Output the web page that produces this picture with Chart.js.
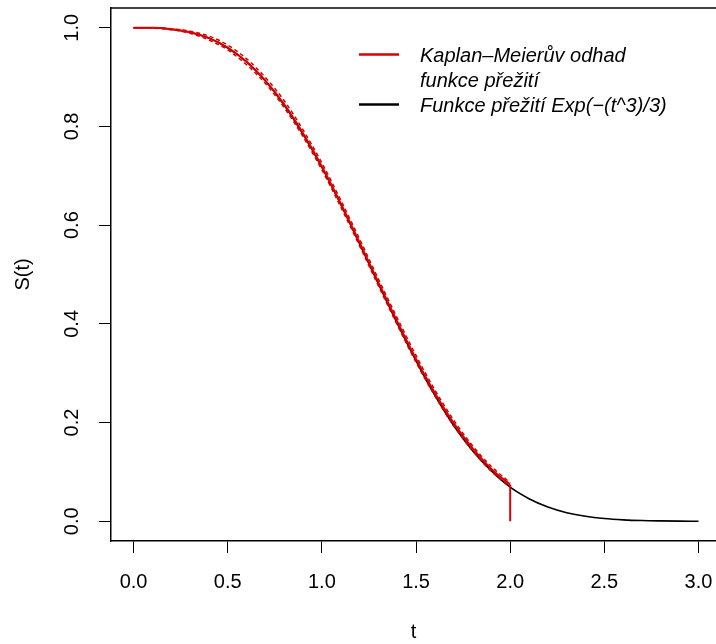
<!DOCTYPE html>
<html>
<head>
<meta charset="utf-8">
<script src="https://cdn.jsdelivr.net/npm/chart.js@4"></script>
<style>
  html, body { margin: 0; padding: 0; background: #fff; overflow: hidden; }
  #wrap { width: 716px; height: 644px; }
</style>
</head>
<body>
<div id="wrap"><canvas id="chart" width="716" height="644"></canvas></div>
<script>
// values
const tTrue = [0.0,0.1,0.2,0.3,0.4,0.5,0.6,0.7,0.8,0.9,1.0,1.1,1.2,1.3,1.4,1.5,1.6,1.7,1.8,1.9,2.0,
               2.1,2.2,2.3,2.4,2.5,2.6,2.7,2.8,2.9,3.0];
const sTrue = [1.000,1.000,0.997,0.991,0.979,0.959,0.931,0.892,0.843,0.784,0.717,0.642,0.562,0.481,0.401,0.325,0.255,0.194,0.143,0.102,0.069,
               0.0456,0.0287,0.0173,0.0100,0.0055,0.0029,0.0014,0.0007,0.0003,0.0001];

const tKM = [0.0,0.1,0.2,0.3,0.4,0.5,0.6,0.7,0.8,0.9,1.0,1.1,1.2,1.3,1.4,1.5,1.6,1.7,1.8,1.9,2.0];
const sKM = [1.000,1.000,0.997,0.991,0.979,0.960,0.931,0.893,0.845,0.786,0.719,0.644,0.565,0.484,0.405,0.329,0.260,0.199,0.148,0.106,0.074];
const kmUpper = [1.000,1.000,0.998,0.993,0.983,0.965,0.937,0.899,0.852,0.793,0.726,0.651,0.572,0.491,0.412,0.336,0.266,0.205,0.153,0.111,0.078];
const kmLower = [1.000,0.999,0.996,0.989,0.975,0.955,0.925,0.887,0.838,0.779,0.712,0.637,0.558,0.477,0.398,0.322,0.254,0.193,0.143,0.101,0.070];
// last step of the estimate drops to zero at t = 2
const tDrop = [2.0, 2.0];
const sDrop = [0.074, 0.0];

const xTicks = [0.0,0.5,1.0,1.5,2.0,2.5,3.0];
const yTicks = [0.0,0.2,0.4,0.6,0.8,1.0];
const legendLines = [
  { color: '#d90000', text: ['Kaplan\u2013Meier\u016fv odhad', 'funkce p\u0159e\u017eit\u00ed'] },
  { color: '#000000', text: ['Funkce p\u0159e\u017eit\u00ed Exp(\u2212(t^3)/3)'] }
];

const pts = (xs, ys) => xs.map((x, i) => ({ x: x, y: ys[i] }));
const FONT = '"Liberation Sans", Arial, Helvetica, sans-serif';

// box top line + legend drawn by hand
const extras = {
  id: 'extras',
  afterDraw(c) {
    const ctx = c.ctx, a = c.chartArea;
    ctx.save();
    ctx.strokeStyle = '#000';
    ctx.lineWidth = 1.5;
    ctx.beginPath();
    ctx.moveTo(a.left, a.top);
    ctx.lineTo(a.right, a.top);
    ctx.stroke();

    ctx.font = 'italic 20px ' + FONT;
    ctx.fillStyle = '#000';
    ctx.textBaseline = 'alphabetic';
    let y = 62;
    legendLines.forEach(item => {
      ctx.strokeStyle = item.color;
      ctx.lineWidth = 2.5;
      ctx.beginPath();
      ctx.moveTo(359, y - 7.5);
      ctx.lineTo(399, y - 7.5);
      ctx.stroke();
      item.text.forEach(line => {
        ctx.fillText(line, 420, y);
        y += 25;
      });
    });
    ctx.restore();
  }
};

new Chart(document.getElementById('chart').getContext('2d'), {
  type: 'line',
  data: {
    datasets: [
      {
        label: 'true',
        data: pts(tTrue, sTrue),
        borderColor: '#000',
        borderWidth: 1.6,
        pointRadius: 0,
        cubicInterpolationMode: 'monotone',
        order: 3
      },
      {
        label: 'upper',
        data: pts(tKM, kmUpper),
        borderColor: '#d90000',
        borderWidth: 1.5,
        borderDash: [4, 3],
        pointRadius: 0,
        cubicInterpolationMode: 'monotone',
        order: 2
      },
      {
        label: 'lower',
        data: pts(tKM, kmLower),
        borderColor: '#d90000',
        borderWidth: 1.5,
        borderDash: [4, 3],
        pointRadius: 0,
        cubicInterpolationMode: 'monotone',
        order: 2
      },
      {
        label: 'KM',
        data: pts(tKM, sKM),
        borderColor: '#d90000',
        borderWidth: 2,
        pointRadius: 0,
        cubicInterpolationMode: 'monotone',
        order: 1
      },
      {
        label: 'drop',
        data: pts(tDrop, sDrop),
        borderColor: '#d90000',
        borderWidth: 2,
        pointRadius: 0,
        tension: 0,
        order: 1
      }
    ]
  },
  options: {
    responsive: false,
    animation: false,
    devicePixelRatio: 1,
    layout: { padding: { top: 8, right: 0, left: 0, bottom: 0 } },
    plugins: { legend: { display: false }, tooltip: { enabled: false } },
    scales: {
      x: {
        type: 'linear',
        min: -0.12,
        max: 3.093,
        afterFit: s => { s.height = 103; s.paddingLeft = 0; s.paddingRight = 0; },
        afterBuildTicks: s => { s.ticks = xTicks.map(v => ({ value: v })); },
        ticks: {
          color: '#000',
          padding: 17,
          font: { family: FONT, size: 20 },
          maxRotation: 0,
          autoSkip: false,
          callback: v => v.toFixed(1)
        },
        grid: { drawOnChartArea: false, tickLength: 12, color: '#000', lineWidth: 1 },
        border: { display: true, color: '#000', width: 1.5 },
        title: { display: true, text: 't', color: '#000', font: { family: FONT, size: 20 }, padding: 0 }
      },
      y: {
        min: -0.04,
        max: 1.04,
        afterFit: s => { s.width = 111; s.paddingTop = 0; s.paddingBottom = 0; },
        afterBuildTicks: s => { s.ticks = yTicks.map(v => ({ value: v })); },
        ticks: {
          color: '#000',
          padding: 13,
          minRotation: 90,
          maxRotation: 90,
          crossAlign: 'center',
          autoSkip: false,
          font: { family: FONT, size: 20 },
          callback: v => v.toFixed(1)
        },
        grid: { drawOnChartArea: false, tickLength: 12, color: '#000', lineWidth: 1 },
        border: { display: true, color: '#000', width: 1.5 },
        title: { display: true, text: 'S(t)', color: '#000', font: { family: FONT, size: 20 }, padding: { top: 11 } }
      }
    }
  },
  plugins: [extras]
});
</script>
</body>
</html>
